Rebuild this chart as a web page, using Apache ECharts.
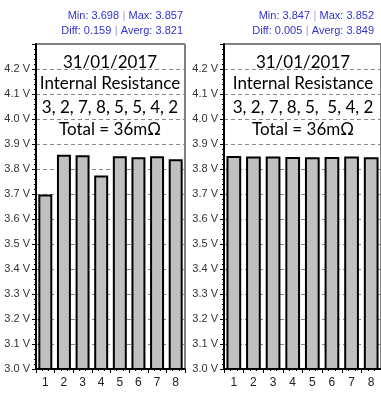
<!DOCTYPE html>
<html>
<head>
<meta charset="utf-8">
<script src="https://cdn.jsdelivr.net/npm/echarts@6/dist/echarts.min.js"></script>
<style>html,body{margin:0;padding:0;background:#fff;}#c{width:381px;height:393px;}</style>
</head>
<body>
<div id="c"></div>
<script>
var categories = ['1', '2', '3', '4', '5', '6', '7', '8'];
var leftValues = [3.698, 3.857, 3.855, 3.774, 3.851, 3.847, 3.851, 3.839];
var rightValues = [3.852, 3.850, 3.850, 3.848, 3.847, 3.848, 3.850, 3.847];
var leftStats = ['3.698', '3.857', '0.159', '3.821'];
var rightStats = ['3.847', '3.852', '0.005', '3.849'];
var boxDate = '31/01/2017';
var boxTitle = 'Internal Resistance';
var leftResist = '3, 2, 7, 8, 5, 5, 4, 2';
var rightResist = '3, 2, 7, 8, 5,  5, 4, 2';
var totalText = 'Total = 36m\u03A9';
var yMin = 3.0, yMax = 4.3, yStep = 0.1;

var chart = echarts.init(document.getElementById('c'), null, {renderer: 'canvas'});

var grids = [
  {left: 36, top: 44, width: 149, height: 325},
  {left: 224, top: 44, width: 158, height: 325}
];

function yAxis(i) {
  return {
    type: 'value', gridIndex: i, min: yMin, max: yMax, interval: yStep,
    axisLine: {show: true, lineStyle: {color: '#000', width: 2}},
    axisTick: {show: true, length: 4, lineStyle: {color: '#000'}},
    minorTick: {show: true, splitNumber: 5, length: 2, lineStyle: {color: '#000'}},
    axisLabel: {
      showMaxLabel: false, margin: 6, color: '#333', fontSize: 11,
      fontFamily: 'Liberation Sans, Arial, sans-serif',
      formatter: function (v) { return v.toFixed(1) + ' V'; }
    },
    splitLine: {show: true, lineStyle: {color: '#888', type: [4, 3], width: 1}}
  };
}
function xCat(i) {
  return {
    type: 'category', gridIndex: i, data: categories,
    axisLine: {show: true, lineStyle: {color: '#000', width: 2}},
    axisTick: {show: false},
    axisLabel: {color: '#222', fontSize: 12, margin: 8, fontFamily: 'Liberation Sans, Arial, sans-serif'}
  };
}
function xTicks(i) {
  return {
    type: 'value', gridIndex: i, min: 0, max: 8, interval: 1, position: 'bottom',
    axisLine: {show: false},
    axisTick: {show: true, length: 4, lineStyle: {color: '#000'}},
    minorTick: {show: true, splitNumber: 3, length: 2, lineStyle: {color: '#000'}},
    axisLabel: {show: false}, splitLine: {show: false}
  };
}

function statTexts(x, stats) {
  var rich = {
    a: {fill: '#3333cc', color: '#3333cc', fontSize: 11, fontFamily: 'Liberation Sans, Arial, sans-serif'},
    s: {fill: '#9999dd', color: '#9999dd', fontSize: 11, fontFamily: 'Liberation Sans, Arial, sans-serif'}
  };
  return [
    {type: 'text', right: 381 - x, top: 10, style: {text: '{a|Min: ' + stats[0] + '} {s||} {a|Max: ' + stats[1] + '}', rich: rich}},
    {type: 'text', right: 381 - x, top: 25, style: {text: '{a|Diff: ' + stats[2] + '} {s||} {a|Averg: ' + stats[3] + '}', rich: rich}}
  ];
}
function boxTexts(cx, resist) {
  var f = '17px Lato, "Open Sans", sans-serif';
  var ys = [63, 84, 108, 130];
  var ts = [boxDate, boxTitle, resist, totalText];
  return ts.map(function (t, k) {
    return {type: 'text', x: cx, y: ys[k], z: 100,
      style: {text: t, font: f, fill: '#000', textAlign: 'center', textVerticalAlign: 'middle'}};
  });
}

var barStyle = {color: '#c0c0c0', borderColor: '#000', borderWidth: 2};

chart.setOption({
  animation: false,
  backgroundColor: '#fff',
  grid: grids.map(function (g) {
    return Object.assign({show: true, borderColor: '#000', borderWidth: 1, backgroundColor: 'transparent'}, g);
  }),
  xAxis: [xCat(0), xCat(1), xTicks(0), xTicks(1)],
  yAxis: [yAxis(0), yAxis(1)],
  series: [
    {type: 'bar', xAxisIndex: 0, yAxisIndex: 0, data: leftValues, barCategoryGap: '25%', itemStyle: barStyle},
    {type: 'bar', xAxisIndex: 1, yAxisIndex: 1, data: rightValues, barCategoryGap: '25%', itemStyle: barStyle}
  ],
  graphic: [].concat(
    statTexts(183, leftStats),
    statTexts(374, rightStats),
    boxTexts(110, leftResist),
    boxTexts(303, rightResist)
  )
});
</script>
</body>
</html>
